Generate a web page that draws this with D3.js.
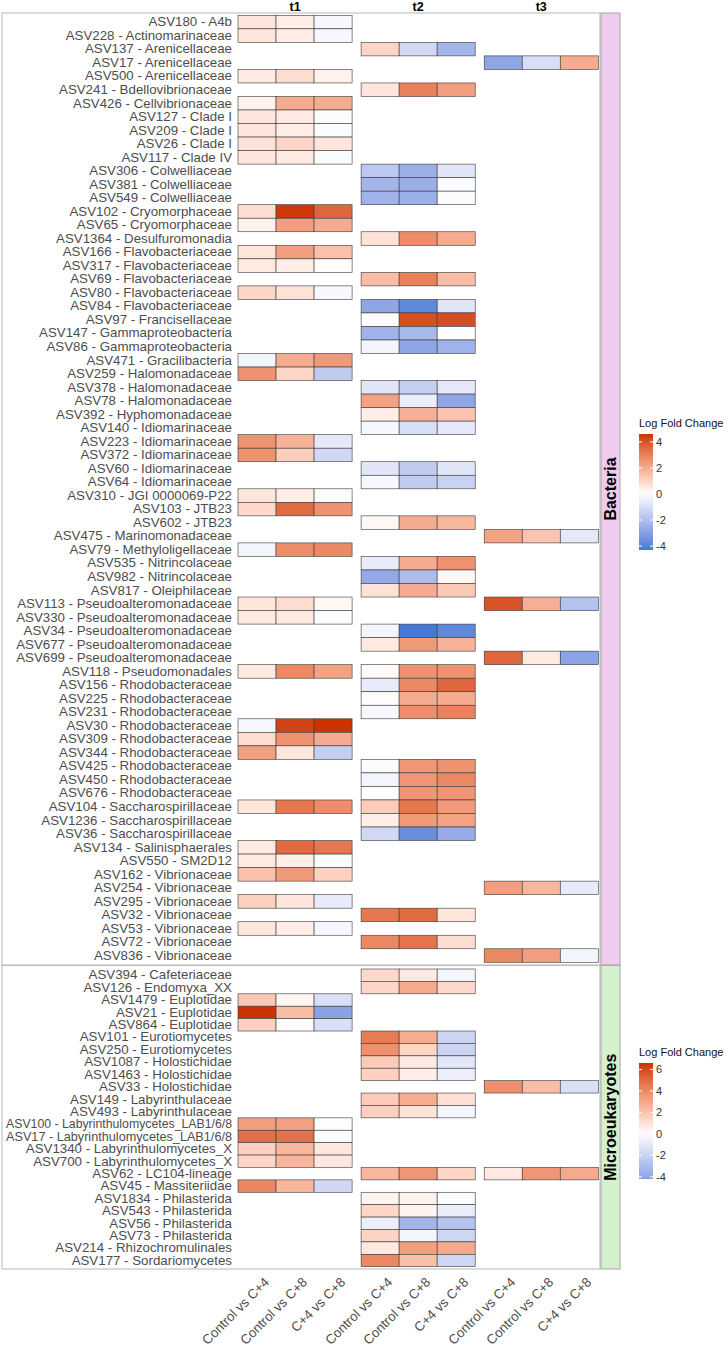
<!DOCTYPE html>
<html><head><meta charset="utf-8">
<script src="https://cdn.jsdelivr.net/npm/d3@7"></script>
<style>body{margin:0;background:#fff} text{font-family:"Liberation Sans",Arial,sans-serif}</style>
</head><body><svg id="c" width="728" height="1348"></svg>
<script>
const timepoints = ["t1","t2","t3"];
const comparisons = ["Control vs C+4","Control vs C+8","C+4 vs C+8"];

const bactLabels = ["ASV180 - A4b","ASV228 - Actinomarinaceae","ASV137 - Arenicellaceae","ASV17 - Arenicellaceae","ASV500 - Arenicellaceae","ASV241 - Bdellovibrionaceae","ASV426 - Cellvibrionaceae","ASV127 - Clade I","ASV209 - Clade I","ASV26 - Clade I","ASV117 - Clade IV","ASV306 - Colwelliaceae","ASV381 - Colwelliaceae","ASV549 - Colwelliaceae","ASV102 - Cryomorphaceae","ASV65 - Cryomorphaceae","ASV1364 - Desulfuromonadia","ASV166 - Flavobacteriaceae","ASV317 - Flavobacteriaceae","ASV69 - Flavobacteriaceae","ASV80 - Flavobacteriaceae","ASV84 - Flavobacteriaceae","ASV97 - Francisellaceae","ASV147 - Gammaproteobacteria","ASV86 - Gammaproteobacteria","ASV471 - Gracilibacteria","ASV259 - Halomonadaceae","ASV378 - Halomonadaceae","ASV78 - Halomonadaceae","ASV392 - Hyphomonadaceae","ASV140 - Idiomarinaceae","ASV223 - Idiomarinaceae","ASV372 - Idiomarinaceae","ASV60 - Idiomarinaceae","ASV64 - Idiomarinaceae","ASV310 - JGI 0000069-P22","ASV103 - JTB23","ASV602 - JTB23","ASV475 - Marinomonadaceae","ASV79 - Methyloligellaceae","ASV535 - Nitrincolaceae","ASV982 - Nitrincolaceae","ASV817 - Oleiphilaceae","ASV113 - Pseudoalteromonadaceae","ASV330 - Pseudoalteromonadaceae","ASV34 - Pseudoalteromonadaceae","ASV677 - Pseudoalteromonadaceae","ASV699 - Pseudoalteromonadaceae","ASV118 - Pseudomonadales","ASV156 - Rhodobacteraceae","ASV225 - Rhodobacteraceae","ASV231 - Rhodobacteraceae","ASV30 - Rhodobacteraceae","ASV309 - Rhodobacteraceae","ASV344 - Rhodobacteraceae","ASV425 - Rhodobacteraceae","ASV450 - Rhodobacteraceae","ASV676 - Rhodobacteraceae","ASV104 - Saccharospirillaceae","ASV1236 - Saccharospirillaceae","ASV36 - Saccharospirillaceae","ASV134 - Salinisphaerales","ASV550 - SM2D12","ASV162 - Vibrionaceae","ASV254 - Vibrionaceae","ASV295 - Vibrionaceae","ASV32 - Vibrionaceae","ASV53 - Vibrionaceae","ASV72 - Vibrionaceae","ASV836 - Vibrionaceae"];

// values per row: [Control vs C+4, Control vs C+8, C+4 vs C+8]; null = not shown
const bactT1 = [[0.6,0.4,-0.2],[0.6,0.4,-0.2],null,null,[0.5,0.8,0.3],null,[0.3,2.0,2.0],[0.6,0.5,-0.1],[0.6,0.4,-0.1],[0.7,1.0,0.6],[0.6,0.5,-0.1],null,null,null,[0.8,4.5,3.6],[0.3,2.3,2.0],null,[0.6,2.3,1.5],[0.5,0.4,0.05],null,[1.0,0.7,-0.2],null,null,null,null,[-0.3,2.0,2.4],[2.6,1.0,-1.6],null,null,null,null,[2.6,1.8,-0.7],[2.6,1.2,-1.2],null,null,[0.6,0.4,-0.1],[0.9,3.5,2.6],null,null,[-0.3,2.7,2.8],null,null,null,[0.6,0.8,0.2],[0.5,0.5,-0.05],null,null,null,[0.5,2.8,2.2],null,null,null,[-0.2,4.3,4.6],[0.8,2.6,2.0],[2.3,0.6,-1.5],null,null,null,[0.6,3.2,2.7],null,null,[0.5,3.5,3.2],[0.5,0.4,-0.1],[1.5,2.4,1.1],null,[1.1,0.6,-0.6],null,[0.6,0.4,-0.2],null,null];
const bactT2 = [null,null,[1.0,-1.2,-2.3],null,null,[0.6,3.0,2.3],null,null,null,null,null,[-1.7,-2.5,-0.8],[-2.3,-2.5,-0.1],[-2.4,-2.5,-0.1],null,null,[0.7,2.7,2.0],null,null,[1.6,3.0,1.6],null,[-2.8,-3.8,-0.8],[0.05,4.1,4.1],[-2.4,-2.2,0.02],[-0.3,-2.8,-2.4],null,null,[-0.8,-1.5,-0.7],[2.2,-0.5,-2.8],[0.4,1.9,1.4],[-0.2,-1.0,-0.7],null,null,[-0.8,-1.6,-0.8],[-0.2,-1.6,-1.4],null,null,[0.2,2.0,1.7],null,null,[-0.6,2.0,2.6],[-2.7,-2.1,0.2],[0.7,2.0,1.3],null,null,[-0.3,-4.3,-3.8],[0.5,2.4,1.8],null,[0.1,2.6,2.6],[-0.6,2.8,3.6],[0.05,2.0,2.0],[-0.2,2.7,3.0],null,null,null,[-0.1,2.5,2.6],[-0.3,2.5,2.8],[0.0,2.5,2.5],[1.2,3.2,2.4],[0.4,2.4,2.2],[-1.2,-3.6,-2.6],null,null,null,null,null,[3.2,3.5,0.6],null,[2.8,3.3,0.8],null];
const bactT3 = [null,null,null,[-2.8,-1.0,2.0],null,null,null,null,null,null,null,null,null,null,null,null,null,null,null,null,null,null,null,null,null,null,null,null,null,null,null,null,null,null,null,null,null,null,[2.2,1.4,-0.7],null,null,null,null,[4.0,1.9,-1.9],null,null,null,[3.6,0.5,-2.9],null,null,null,null,null,null,null,null,null,null,null,null,null,null,null,null,[2.3,1.7,-0.6],null,null,null,null,[2.8,2.3,-0.3]];

const microLabels = ["ASV394 - Cafeteriaceae","ASV126 - Endomyxa_XX","ASV1479 - Euplotidae","ASV21 - Euplotidae","ASV864 - Euplotidae","ASV101 - Eurotiomycetes","ASV250 - Eurotiomycetes","ASV1087 - Holostichidae","ASV1463 - Holostichidae","ASV33 - Holostichidae","ASV149 - Labyrinthulaceae","ASV493 - Labyrinthulaceae","ASV100 - Labyrinthulomycetes_LAB1/6/8","ASV17 - Labyrinthulomycetes_LAB1/6/8","ASV1340 - Labyrinthulomycetes_X","ASV700 - Labyrinthulomycetes_X","ASV62 - LC104-lineage","ASV45 - Massiteriidae","ASV1834 - Philasterida","ASV543 - Philasterida","ASV56 - Philasterida","ASV73 - Philasterida","ASV214 - Rhizochromulinales","ASV177 - Sordariomycetes"];
const microT1 = [null,null,[1.9,0.3,-1.4],[6.6,2.3,-4.2],[1.6,0.15,-1.4],null,null,null,null,null,null,null,[3.3,3.2,-0.1],[4.9,4.8,-0.15],[1.6,2.5,0.8],[1.4,2.5,0.8],null,[4.1,2.5,-1.7],null,null,null,null,null,null];
const microT2 = [[1.3,0.7,-0.4],[1.4,2.9,1.3],null,null,null,[4.5,2.8,-1.9],[3.8,1.4,-1.9],[1.8,0.7,-1.1],[1.6,0.6,-0.7],null,[1.8,2.8,1.1],[1.6,1.0,-0.4],null,null,null,null,[2.5,3.6,1.4],null,[0.4,0.4,-0.15],[1.4,0.4,-0.8],[-0.7,-3.3,-2.7],[1.5,-0.4,-1.8],[0.7,3.3,2.9],[4.1,2.2,-1.8]];
const microT3 = [null,null,null,null,null,null,null,null,null,[3.8,2.3,-1.4],null,null,null,null,null,null,[0.7,3.6,2.9],null,null,null,null,null,null,null];

const bactTicks = [4,2,0,-2,-4];
const microTicks = [6,4,2,0,-2,-4];

const svg = d3.select("#c");
const LOW = "#2E72D2", MID = "#ffffff", HIGH = "#CC3300";
const FONT = '"Liberation Sans",Arial,sans-serif';

function makeColor(values){
  const mn = d3.min(values), mx = d3.max(values);
  const m = Math.max(Math.abs(mn), Math.abs(mx));
  const neg = d3.interpolateLab(MID, LOW), pos = d3.interpolateLab(MID, HIGH);
  const f = v => v < 0 ? neg(Math.min(1,-v/m)) : pos(Math.min(1, v/m));
  f.extent = [mn, mx];
  return f;
}

const fx = d3.scaleBand().domain(timepoints).range([238, 598.3]).paddingInner(9/123).paddingOuter(0);
const cx = d3.scaleBand().domain(comparisons).range([0, fx.bandwidth()]);

const panels = [
  {name:"Bacteria", labels:bactLabels, data:[bactT1,bactT2,bactT3], y0:15.3, y1:962.3, top:13, bottom:965, strip:"#EFCBEF", ticks:bactTicks, legY:[434,550]},
  {name:"Microeukaryotes", labels:microLabels, data:[microT1,microT2,microT3], y0:969, y1:1266.7, top:965.5, bottom:1269, strip:"#D5F0CC", ticks:microTicks, legY:[1063,1179]}
];

panels.forEach((p, pi) => {
  const g = svg.append("g");
  const y = d3.scaleBand().domain(p.labels).range([p.y0, p.y1]);
  const cells = [];
  p.labels.forEach((lab, i) => {
    timepoints.forEach((t, ti) => {
      const row = p.data[ti][i];
      if (row) row.forEach((v, ci) => cells.push({lab, t, comp: comparisons[ci], v}));
    });
  });
  const color = makeColor(cells.map(d => d.v));

  g.append("rect").attr("x",2).attr("y",p.top).attr("width",598).attr("height",p.bottom-p.top)
    .attr("fill","none").attr("stroke","#BDBDBD").attr("stroke-width",1.1);

  g.selectAll("rect.tile").data(cells).join("rect").attr("class","tile")
    .attr("x", d => fx(d.t) + cx(d.comp))
    .attr("y", d => y(d.lab))
    .attr("width", cx.bandwidth())
    .attr("height", y.bandwidth())
    .attr("fill", d => color(d.v))
    .attr("stroke", "#3a3a3a").attr("stroke-width", 0.6);

  const ya = g.append("g").attr("transform","translate(238,0)")
    .call(d3.axisLeft(y).tickSize(0).tickPadding(6));
  ya.select(".domain").remove();
  ya.selectAll("text").attr("font-size",13.3).attr("fill","#4D4D4D").attr("font-family",FONT)
    .each(function(){
      const w = this.getComputedTextLength();
      if (w > 226) d3.select(this).attr("textLength",226).attr("lengthAdjust","spacingAndGlyphs");
    });

  g.append("rect").attr("x",601).attr("y",p.top).attr("width",19).attr("height",p.bottom-p.top)
    .attr("fill",p.strip).attr("stroke","#A8A8A8").attr("stroke-width",1);
  g.append("text").attr("transform",`translate(616,${(p.top+p.bottom)/2}) rotate(-90)`)
    .attr("text-anchor","middle").attr("font-weight","bold").attr("font-size", 16)
    .attr("fill","#000").text(p.name);

  const [ly0, ly1] = p.legY;
  const ext = color.extent;
  const ls = d3.scaleLinear().domain(ext).range([ly1, ly0]);
  const gid = "grad" + pi;
  const grad = svg.append("defs").append("linearGradient").attr("id",gid)
    .attr("x1",0).attr("y1",1).attr("x2",0).attr("y2",0);
  d3.range(0,1.0001,0.05).forEach(f => {
    grad.append("stop").attr("offset",f).attr("stop-color", color(ext[0] + f*(ext[1]-ext[0])));
  });
  g.append("rect").attr("x",639).attr("y",ly0).attr("width",14).attr("height",ly1-ly0).attr("fill",`url(#${gid})`);
  p.ticks.forEach(t => {
    g.append("line").attr("x1",639).attr("x2",642).attr("y1",ls(t)).attr("y2",ls(t)).attr("stroke","#fff");
    g.append("line").attr("x1",650).attr("x2",653).attr("y1",ls(t)).attr("y2",ls(t)).attr("stroke","#fff");
  });
  const la = g.append("g").attr("transform","translate(653,0)")
    .call(d3.axisRight(ls).tickValues(p.ticks).tickSize(0).tickPadding(3).tickFormat(d => String(d)));
  la.select(".domain").remove();
  la.selectAll("text").attr("font-size",11).attr("fill","#333").attr("font-family",FONT);
  g.append("text").attr("x",639).attr("y",ly0-7).attr("font-size",11).attr("fill","#111").text("Log Fold Change");
});

svg.selectAll("text.ft").data(timepoints).join("text").attr("class","ft")
  .attr("x", d => fx(d) + fx.bandwidth()/2).attr("y", 11)
  .attr("text-anchor","middle").attr("font-weight","bold").attr("font-size",12.5).text(d => d);

timepoints.forEach(t => {
  const xa = svg.append("g").attr("transform",`translate(${fx(t)},1269)`)
    .call(d3.axisBottom(cx).tickSize(0).tickPadding(0));
  xa.select(".domain").remove();
  xa.selectAll("text").attr("font-size",13.3).attr("fill","#4D4D4D").attr("font-family",FONT)
    .attr("text-anchor","end").attr("y",0).attr("dy","0.75em")
    .attr("transform","translate(6,7) rotate(-45)");
});
</script></body></html>
